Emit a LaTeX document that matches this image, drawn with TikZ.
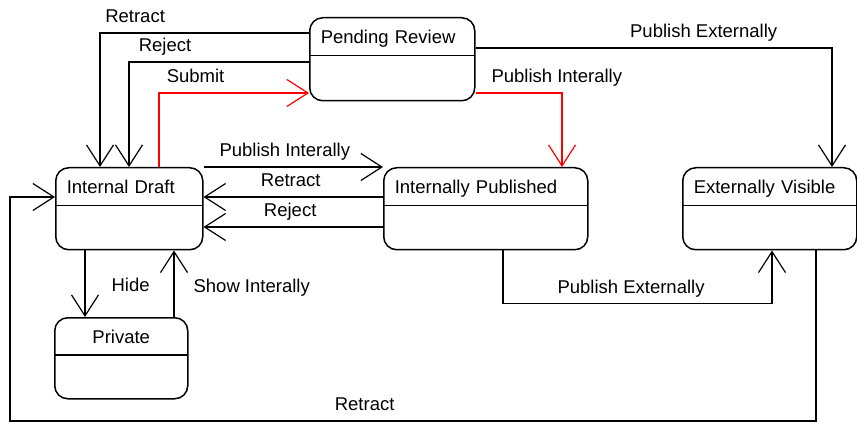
\documentclass[tikz,border=0pt]{standalone}
\usepackage{fontspec}
\setmainfont{Liberation Sans}
\usepackage{tikz}
\usetikzlibrary{arrows.meta,positioning}

\begin{document}
\begin{tikzpicture}[
        x=1pt, y=-1pt,
        font=\fontsize{18.5pt}{22pt}\selectfont,
        statebox/.style={draw, line width=1.5pt, rounded corners=13pt, anchor=north west,
            inner xsep=11pt, inner ysep=12.5pt, text height=13pt, text depth=44pt, align=left,
            path picture={\draw[line width=1.5pt] ([yshift=-#1]path picture bounding box.north west) -- ([yshift=-#1]path picture bounding box.north east);}},
        statebox/.default=38pt,
        trans/.style={line width=1.2pt, -{Straight Barb[length=21pt,width=27pt]}},
        hot/.style={trans, red},
        lbl/.style={inner sep=0pt, text height=13pt, text depth=0pt, text=black}
    ]
        \useasboundingbox (0,0) rectangle (857,422);

        % States
        \node[statebox, text width=143pt, text depth=45pt] (review1) at (309,17) {Pending Review};
        \node[statebox, text width=125pt] (draft1) at (55,167) {Internal Draft};
        \node[statebox, text width=182pt] (intpub1) at (383,167) {Internally Published};
        \node[statebox, text width=152pt] (extvis1) at (682,167) {Externally Visible};
        \node[statebox=37pt, text width=111pt, text depth=43pt, align=center] (private1) at (54,317) {Private};

        % Transitions out of review
        \draw[trans] ([yshift=-16pt]review1.north west) -| node[lbl, pos=0.416, above=9.5pt] {Retract} ([xshift=45pt]draft1.north west);
        \draw[trans] ([yshift=-45pt]review1.north west) -| node[lbl, pos=0.4, above=9.5pt] {Reject} ([xshift=74pt]draft1.north west);
        \draw[hot] ([xshift=104pt]draft1.north west) |- node[lbl, pos=0.622, above=9.5pt] {Submit} ([yshift=-76pt]review1.north west);
        \draw[hot] ([yshift=-76pt]review1.north east) -| node[lbl, pos=0.47, above=9.5pt] {Publish Interally} ([xshift=179pt]intpub1.north west);
        \draw[trans] ([yshift=-31pt]review1.north east) -| node[lbl, pos=0.32, above=9.5pt] {Publish Externally} ([xshift=150pt]extvis1.north west);

        % Draft and internally published
        \draw[trans] (draft1.north east) -- node[lbl, pos=0.453, above=9.5pt] {Publish Interally} (intpub1.north west);
        \draw[trans] ([yshift=-30pt]intpub1.north west) -- node[lbl, pos=0.514, above=9.5pt] {Retract} ([yshift=-30pt]draft1.north east);
        \draw[trans] ([yshift=-60pt]intpub1.north west) -- node[lbl, pos=0.517, above=9.5pt] {Reject} ([yshift=-60pt]draft1.north east);

        % Draft and private
        \draw[trans] ([xshift=30pt]draft1.south west) -- node[lbl, pos=0.52, right=26pt] {Hide} ([xshift=31pt]private1.north west);
        \draw[trans] ([xshift=120pt]private1.north west) -- node[lbl, pos=0.46, right=19pt] {Show Interally} ([xshift=119pt]draft1.south west);

        % External visibility
        \draw[trans] ([xshift=120pt]intpub1.south west) -- ++(0,53) -| node[lbl, pos=0.238, above=9.5pt] {Publish Externally} ([xshift=90pt]extvis1.south west);
        \coordinate (rim) at (10,421);
        \draw[trans] ([xshift=134pt]extvis1.south west) |- node[lbl, pos=0.78, above=9.5pt] {Retract} (rim) |- ([yshift=-30pt]draft1.north west);
    \end{tikzpicture}
\end{document}
